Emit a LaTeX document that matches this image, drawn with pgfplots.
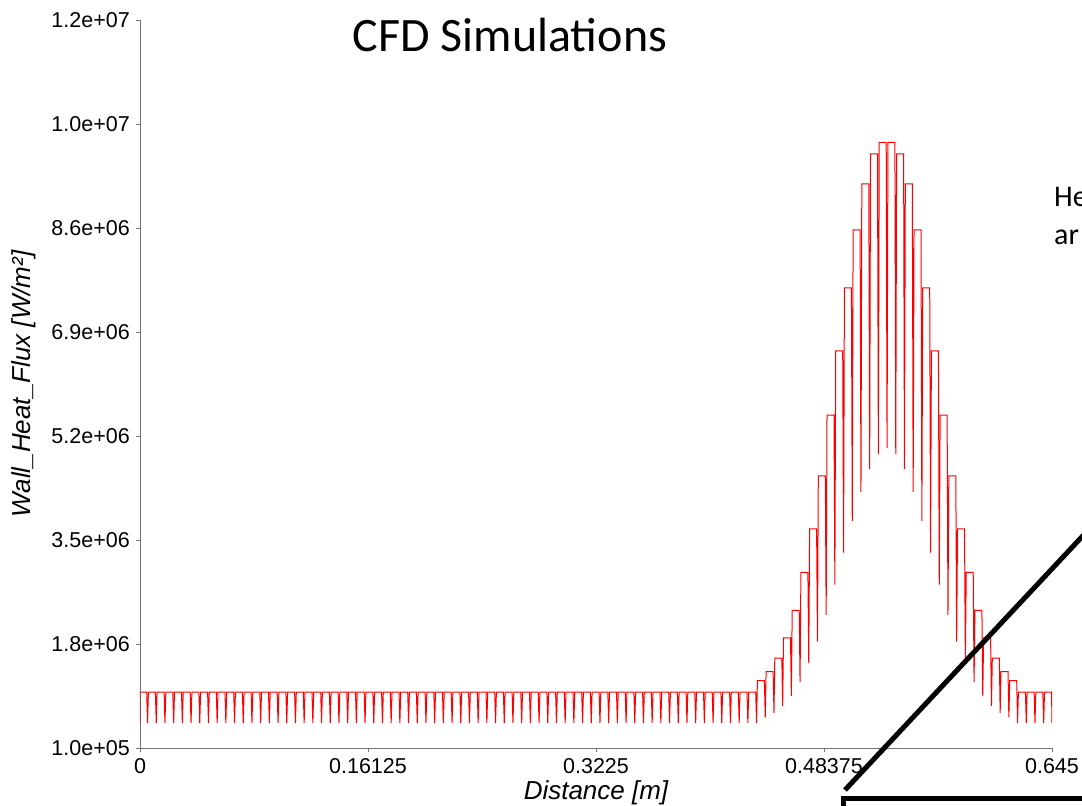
\documentclass[border=0pt]{standalone}
\usepackage{fontspec}
\setmainfont{Liberation Sans}
\newfontfamily\carlito{Carlito}
\usepackage{pgfplots}
\pgfplotsset{compat=1.18}
\begin{document}
\begin{tikzpicture}[x=1pt,y=1pt]
\useasboundingbox (0,0) rectangle (1082,806);
\begin{axis}[
  at={(140pt,58pt)}, anchor=south west,
  scale only axis, width=912pt, height=728pt,
  xmin=0, xmax=0.645, ymin=1e5, ymax=1.2e7,
  axis x line*=bottom, axis y line*=left,
  axis line style={black!55, line width=0.8pt},
  xtick={0,0.16125,0.3225,0.48375,0.645},
  xticklabels={0,0.16125,0.3225,0.48375,0.645},
  ytick={1e5,1.8e6,3.5e6,5.2e6,6.9e6,8.6e6,1.03e7,1.2e7},
  yticklabels={1.0e+05,1.8e+06,3.5e+06,5.2e+06,6.9e+06,8.6e+06,1.0e+07,1.2e+07},
  tick style={black!55, line width=0.8pt},
  major tick length=4pt, tick align=outside,
  ticklabel style={font=\fontsize{21.5}{25}\selectfont},
  yticklabel style={anchor=east, inner sep=0pt, xshift=-6pt},
  xticklabel style={anchor=north, inner sep=0pt, yshift=-6pt},
  xlabel={Distance [m]}, ylabel={Wall\_Heat\_Flux [W/m²]},
  label style={font=\fontsize{26}{31}\selectfont\itshape},
  xlabel style={at={(axis description cs:0.5,-0.062)}, anchor=center},
  ylabel style={at={(axis description cs:-0.127,0.5)}, anchor=center},
  scaled ticks=false,
]
\addplot[red, line width=1pt] coordinates {
(0,5.07e5)(0,1.015e6)(0.00474,1.015e6)(0.00534,5.07e5)
(0.00594,1.015e6)(0.01089,1.015e6)(0.01149,5.07e5)
(0.01209,1.015e6)(0.01705,1.015e6)(0.01765,5.07e5)
(0.01825,1.015e6)(0.02320,1.015e6)(0.02380,5.07e5)
(0.02440,1.015e6)(0.02935,1.015e6)(0.02995,5.07e5)
(0.03055,1.015e6)(0.03550,1.015e6)(0.03610,5.07e5)
(0.03670,1.015e6)(0.04166,1.015e6)(0.04226,5.07e5)
(0.04286,1.015e6)(0.04781,1.015e6)(0.04841,5.07e5)
(0.04901,1.015e6)(0.05396,1.015e6)(0.05456,5.07e5)
(0.05516,1.015e6)(0.06011,1.015e6)(0.06071,5.07e5)
(0.06131,1.015e6)(0.06627,1.015e6)(0.06687,5.07e5)
(0.06747,1.015e6)(0.07242,1.015e6)(0.07302,5.07e5)
(0.07362,1.015e6)(0.07857,1.015e6)(0.07917,5.07e5)
(0.07977,1.015e6)(0.08473,1.015e6)(0.08533,5.07e5)
(0.08593,1.015e6)(0.09088,1.015e6)(0.09148,5.07e5)
(0.09208,1.015e6)(0.09703,1.015e6)(0.09763,5.07e5)
(0.09823,1.015e6)(0.10319,1.015e6)(0.10379,5.07e5)
(0.10439,1.015e6)(0.10934,1.015e6)(0.10994,5.07e5)
(0.11054,1.015e6)(0.11549,1.015e6)(0.11609,5.07e5)
(0.11669,1.015e6)(0.12165,1.015e6)(0.12225,5.07e5)
(0.12285,1.015e6)(0.12780,1.015e6)(0.12840,5.07e5)
(0.12900,1.015e6)(0.13395,1.015e6)(0.13455,5.07e5)
(0.13515,1.015e6)(0.14011,1.015e6)(0.14071,5.07e5)
(0.14131,1.015e6)(0.14626,1.015e6)(0.14686,5.07e5)
(0.14746,1.015e6)(0.15241,1.015e6)(0.15301,5.07e5)
(0.15361,1.015e6)(0.15856,1.015e6)(0.15916,5.07e5)
(0.15976,1.015e6)(0.16472,1.015e6)(0.16532,5.07e5)
(0.16592,1.015e6)(0.17087,1.015e6)(0.17147,5.07e5)
(0.17207,1.015e6)(0.17702,1.015e6)(0.17762,5.07e5)
(0.17822,1.015e6)(0.18318,1.015e6)(0.18378,5.07e5)
(0.18438,1.015e6)(0.18933,1.015e6)(0.18993,5.07e5)
(0.19053,1.015e6)(0.19548,1.015e6)(0.19608,5.07e5)
(0.19668,1.015e6)(0.20164,1.015e6)(0.20224,5.07e5)
(0.20284,1.015e6)(0.20779,1.015e6)(0.20839,5.07e5)
(0.20899,1.015e6)(0.21394,1.015e6)(0.21454,5.07e5)
(0.21514,1.015e6)(0.22010,1.015e6)(0.22070,5.07e5)
(0.22130,1.015e6)(0.22625,1.015e6)(0.22685,5.07e5)
(0.22745,1.015e6)(0.23240,1.015e6)(0.23300,5.07e5)
(0.23360,1.015e6)(0.23855,1.015e6)(0.23915,5.07e5)
(0.23975,1.015e6)(0.24471,1.015e6)(0.24531,5.07e5)
(0.24591,1.015e6)(0.25086,1.015e6)(0.25146,5.07e5)
(0.25206,1.015e6)(0.25701,1.015e6)(0.25761,5.07e5)
(0.25821,1.015e6)(0.26317,1.015e6)(0.26377,5.07e5)
(0.26437,1.015e6)(0.26932,1.015e6)(0.26992,5.07e5)
(0.27052,1.015e6)(0.27547,1.015e6)(0.27607,5.07e5)
(0.27667,1.015e6)(0.28163,1.015e6)(0.28223,5.07e5)
(0.28283,1.015e6)(0.28778,1.015e6)(0.28838,5.07e5)
(0.28898,1.015e6)(0.29393,1.015e6)(0.29453,5.07e5)
(0.29513,1.015e6)(0.30008,1.015e6)(0.30068,5.07e5)
(0.30128,1.015e6)(0.30624,1.015e6)(0.30684,5.07e5)
(0.30744,1.015e6)(0.31239,1.015e6)(0.31299,5.07e5)
(0.31359,1.015e6)(0.31854,1.015e6)(0.31914,5.07e5)
(0.31974,1.015e6)(0.32470,1.015e6)(0.32530,5.07e5)
(0.32590,1.015e6)(0.33085,1.015e6)(0.33145,5.07e5)
(0.33205,1.015e6)(0.33700,1.015e6)(0.33760,5.07e5)
(0.33820,1.015e6)(0.34316,1.015e6)(0.34376,5.07e5)
(0.34436,1.015e6)(0.34931,1.015e6)(0.34991,5.07e5)
(0.35051,1.015e6)(0.35546,1.015e6)(0.35606,5.07e5)
(0.35666,1.015e6)(0.36162,1.015e6)(0.36222,5.07e5)
(0.36282,1.015e6)(0.36777,1.015e6)(0.36837,5.07e5)
(0.36897,1.015e6)(0.37392,1.015e6)(0.37452,5.07e5)
(0.37512,1.015e6)(0.38007,1.015e6)(0.38067,5.07e5)
(0.38127,1.015e6)(0.38623,1.015e6)(0.38683,5.07e5)
(0.38743,1.015e6)(0.39238,1.015e6)(0.39298,5.07e5)
(0.39358,1.015e6)(0.39853,1.015e6)(0.39913,5.07e5)
(0.39973,1.015e6)(0.40469,1.015e6)(0.40529,5.07e5)
(0.40589,1.015e6)(0.41084,1.015e6)(0.41144,5.07e5)
(0.41204,1.015e6)(0.41699,1.015e6)(0.41759,5.07e5)
(0.41819,1.015e6)(0.42315,1.015e6)(0.42375,5.07e5)
(0.42435,1.015e6)(0.42930,1.015e6)(0.42990,5.07e5)
(0.43050,1.015e6)(0.43545,1.015e6)(0.43605,5.07e5)
(0.43665,1.2e6)(0.44160,1.2e6)(0.44220,6.0e5)
(0.44280,1.35e6)(0.44776,1.35e6)(0.44836,6.75e5)
(0.44896,1.57e6)(0.45391,1.57e6)(0.45451,7.85e5)
(0.45511,1.9e6)(0.46006,1.9e6)(0.46066,9.5e5)
(0.46126,2.35e6)(0.46622,2.35e6)(0.46682,1.175e6)
(0.46742,2.97e6)(0.47237,2.97e6)(0.47297,1.485e6)
(0.47357,3.68e6)(0.47852,3.68e6)(0.47912,1.84e6)
(0.47972,4.55e6)(0.48468,4.55e6)(0.48528,2.275e6)
(0.48588,5.54e6)(0.49083,5.54e6)(0.49143,2.77e6)
(0.49203,6.59e6)(0.49698,6.59e6)(0.49758,3.295e6)
(0.49818,7.62e6)(0.50314,7.62e6)(0.50374,3.81e6)
(0.50434,8.57e6)(0.50929,8.57e6)(0.50989,4.285e6)
(0.51049,9.32e6)(0.51544,9.32e6)(0.51604,4.66e6)
(0.51664,9.81e6)(0.52159,9.81e6)(0.52219,4.905e6)
(0.52279,1.0e7)(0.52775,1.0e7)(0.52835,5.0e6)
(0.52895,1.0e7)(0.53390,1.0e7)(0.53450,4.905e6)
(0.53510,9.81e6)(0.54005,9.81e6)(0.54065,4.66e6)
(0.54125,9.32e6)(0.54621,9.32e6)(0.54681,4.285e6)
(0.54741,8.57e6)(0.55236,8.57e6)(0.55296,3.81e6)
(0.55356,7.62e6)(0.55851,7.62e6)(0.55911,3.295e6)
(0.55971,6.59e6)(0.56467,6.59e6)(0.56527,2.77e6)
(0.56587,5.54e6)(0.57082,5.54e6)(0.57142,2.275e6)
(0.57202,4.55e6)(0.57697,4.55e6)(0.57757,1.84e6)
(0.57817,3.68e6)(0.58313,3.68e6)(0.58373,1.485e6)
(0.58433,2.97e6)(0.58928,2.97e6)(0.58988,1.175e6)
(0.59048,2.35e6)(0.59543,2.35e6)(0.59603,9.5e5)
(0.59663,1.9e6)(0.60158,1.9e6)(0.60218,7.85e5)
(0.60278,1.57e6)(0.60774,1.57e6)(0.60834,6.75e5)
(0.60894,1.35e6)(0.61389,1.35e6)(0.61449,6.0e5)
(0.61509,1.2e6)(0.62004,1.2e6)(0.62064,5.07e5)
(0.62124,1.015e6)(0.62620,1.015e6)(0.62680,5.07e5)
(0.62740,1.015e6)(0.63235,1.015e6)(0.63295,5.07e5)
(0.63355,1.015e6)(0.63850,1.015e6)(0.63910,5.07e5)
(0.63970,1.015e6)(0.64466,1.015e6)(0.6450,5.07e5)
};
\end{axis}
% slide annotations around the chart
\node[font=\carlito\fontsize{48}{56}\selectfont, anchor=base, inner sep=0pt] at (510,754) {CFD Simulations};
\node[font=\carlito\fontsize{30}{36}\selectfont, anchor=base west, inner sep=0pt] at (1054,599) {He};
\node[font=\carlito\fontsize{30}{36}\selectfont, anchor=base west, inner sep=0pt] at (1054,561) {ar};
\begin{scope}
\clip (0,0) rectangle (1082,806);
\draw[line width=5pt] (845,16) -- (1100,288.5);
\draw[line width=5pt] (1100,7) -- (843,7) -- (843,-20);
\end{scope}
\end{tikzpicture}
\end{document}
